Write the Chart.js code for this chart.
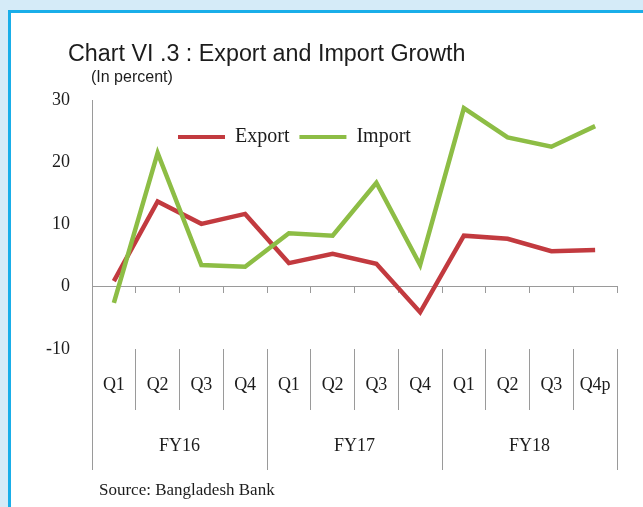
<!DOCTYPE html>
<html>
<head>
<meta charset="utf-8">
<title>Export and Import Growth</title>
<script src="https://cdn.jsdelivr.net/npm/chart.js@4/dist/chart.umd.min.js"></script>
<style>
  html, body { margin: 0; padding: 0; width: 643px; height: 507px; overflow: hidden; background: #d5ebf8; }
  #frame { position: absolute; left: 8px; top: 10px; width: 680px; height: 540px; box-sizing: border-box;
           background: #ffffff; border: 3px solid #19aee9; }
  #chart { position: absolute; left: 0; top: 0; }
  .txt { position: absolute; white-space: nowrap; color: #1c1c1c; line-height: 1; }
  #title  { left: 68px; top: 40px; font: 23.3px "Liberation Sans", Arial, sans-serif; }
  #unit   { left: 91px; top: 68px; font: 16px "Liberation Sans", Arial, sans-serif; }
  #source { left: 99px; top: 480px; font: 17px "Liberation Serif", "Times New Roman", serif; }
</style>
</head>
<body>
<div id="frame"></div>
<canvas id="chart" width="643" height="507"></canvas>
<div class="txt" id="title">Chart VI .3 : Export and Import Growth</div>
<div class="txt" id="unit">(In percent)</div>
<div class="txt" id="source">Source: Bangladesh Bank</div>
<script>
// Quarterly growth, percent
const quarters = ['Q1', 'Q2', 'Q3', 'Q4', 'Q1', 'Q2', 'Q3', 'Q4', 'Q1', 'Q2', 'Q3', 'Q4p'];
const fiscalYears = ['FY16', 'FY17', 'FY18'];
const exportGrowth = [0.9, 13.7, 10.1, 11.7, 3.8, 5.3, 3.7, -4.1, 8.2, 7.7, 5.7, 5.9];
const importGrowth = [-2.6, 21.5, 3.5, 3.2, 8.6, 8.2, 16.7, 3.5, 28.7, 24.0, 22.5, 25.8];
const yTicks = [-10, 0, 10, 20, 30];

const EXPORT_COLOR = '#c23a3f';
const IMPORT_COLOR = '#8dbd45';
const AXIS_GREY = '#9a9a9a';
const TEXT = '#1c1c1c';
const SERIF = '"Liberation Serif", "Times New Roman", serif';

// Fiscal-year axis: labels centred on each group of four quarters, dividers between groups
const perYear = quarters.length / fiscalYears.length;
const fyCentres = fiscalYears.map((_, i) => i * perYear + (perYear - 1) / 2);
const fyBounds = fiscalYears.map((_, i) => i * perYear - 0.5).concat([quarters.length - 0.5]);
const fyTickValues = fyBounds.concat(fyCentres).sort((a, b) => a - b);

// Lays the legend out as a single row inside the plot, left of centre
const legendPlacement = {
  id: 'legendPlacement',
  beforeLayout(chart) {
    if (chart.legend) chart.legend.isHorizontal = () => true;
  },
  afterLayout(chart) {
    const lg = chart.legend;
    if (!lg) return;
    lg.left = chart.chartArea.left + 76;
    lg.top = chart.chartArea.top + 17;
  }
};

new Chart(document.getElementById('chart'), {
  type: 'line',
  data: {
    labels: quarters,
    datasets: [
      { label: 'Export', data: exportGrowth, borderColor: EXPORT_COLOR, backgroundColor: EXPORT_COLOR,
        borderWidth: 4.5, pointRadius: 0, tension: 0, order: 1 },
      { label: 'Import', data: importGrowth, borderColor: IMPORT_COLOR, backgroundColor: IMPORT_COLOR,
        borderWidth: 4.5, pointRadius: 0, tension: 0, order: 0 }
    ]
  },
  options: {
    responsive: false,
    animation: false,
    layout: { padding: { left: 0, top: 100, right: 26, bottom: 37 } },
    plugins: {
      tooltip: { enabled: false },
      legend: {
        position: 'chartArea',
        align: 'start',
        labels: {
          boxWidth: 47,
          boxHeight: 4,
          padding: 10,
          color: TEXT,
          font: { family: SERIF, size: 20 },
          sort: (a, b) => a.datasetIndex - b.datasetIndex,
          generateLabels: (chart) =>
            Chart.defaults.plugins.legend.labels.generateLabels(chart).map(item =>
              Object.assign(item, { fillStyle: item.strokeStyle, lineWidth: 0 }))
        }
      }
    },
    scales: {
      y: {
        min: -10,
        max: 30,
        afterBuildTicks: s => { s.ticks = yTicks.map(v => ({ value: v })); },
        afterFit: s => { s.width = 92; },
        grid: { drawOnChartArea: false, drawTicks: false },
        border: { display: true, color: AXIS_GREY, width: 1 },
        ticks: { padding: 22, color: TEXT, font: { family: SERIF, size: 18 } }
      },
      x: {
        type: 'category',
        position: 'bottom',
        weight: 0,
        offset: true,
        afterFit: s => { s.height = 61; },
        grid: { offset: true, drawOnChartArea: false, tickLength: 61, color: AXIS_GREY },
        border: { display: false },
        ticks: { padding: -36, autoSkip: false, maxRotation: 0, color: TEXT, font: { family: SERIF, size: 18 } }
      },
      fy: {
        axis: 'x',
        type: 'linear',
        position: 'bottom',
        weight: 1,
        min: -0.5,
        max: quarters.length - 0.5,
        afterBuildTicks: s => { s.ticks = fyTickValues.map(v => ({ value: v })); },
        afterFit: s => { s.height = 60; },
        grid: {
          drawOnChartArea: false,
          tickLength: 60,
          color: ctx => (ctx.tick && fyBounds.includes(ctx.tick.value)) ? AXIS_GREY : 'rgba(0,0,0,0)'
        },
        border: { display: false },
        ticks: {
          padding: -35,
          autoSkip: false,
          maxRotation: 0,
          color: TEXT,
          font: { family: SERIF, size: 18 },
          callback: v => { const i = fyCentres.indexOf(v); return i >= 0 ? fiscalYears[i] : ''; }
        }
      },
      zero: {
        axis: 'x',
        type: 'category',
        position: { y: 0 },
        offset: true,
        grid: { offset: true, drawOnChartArea: false, tickLength: 6, color: AXIS_GREY },
        border: { display: true, color: AXIS_GREY, width: 1 },
        ticks: { display: false }
      }
    }
  },
  plugins: [legendPlacement]
});
</script>
</body>
</html>
